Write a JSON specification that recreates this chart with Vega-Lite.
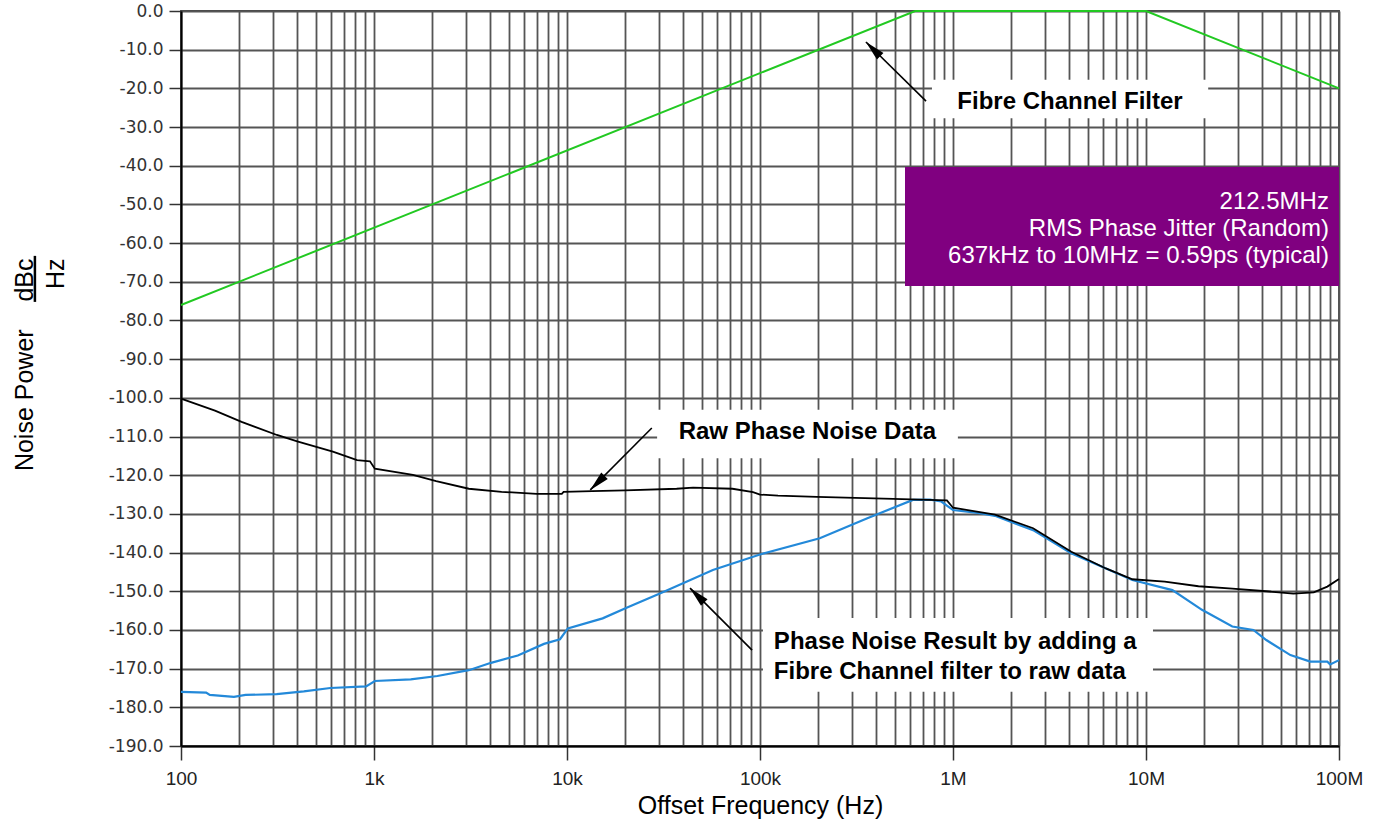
{
  "$schema": "https://vega.github.io/schema/vega-lite/v6.json",
  "width": 1158,
  "height": 735,
  "autosize": {"type": "none"},
  "padding": {"left": 181, "top": 11, "right": 41, "bottom": 79},
  "background": "white",
  "config": {
    "view": {"stroke": "#444444", "strokeWidth": 1.8},
    "font": "Liberation Sans"
  },
  "datasets": {
    "curves": [
      {"series": "filter", "freq": 100, "db": -76},
      {"series": "filter", "freq": 637000, "db": 0},
      {"series": "filter", "freq": 10000000, "db": 0},
      {"series": "filter", "freq": 100000000, "db": -20},
      {"series": "raw", "freq": 100, "db": -100.2},
      {"series": "raw", "freq": 150, "db": -103.3},
      {"series": "raw", "freq": 206, "db": -106.2},
      {"series": "raw", "freq": 314, "db": -109.6},
      {"series": "raw", "freq": 404, "db": -111.3},
      {"series": "raw", "freq": 612, "db": -113.9},
      {"series": "raw", "freq": 817, "db": -116.1},
      {"series": "raw", "freq": 953, "db": -116.4},
      {"series": "raw", "freq": 1010, "db": -118.3},
      {"series": "raw", "freq": 1590, "db": -119.9},
      {"series": "raw", "freq": 2100, "db": -121.5},
      {"series": "raw", "freq": 3100, "db": -123.5},
      {"series": "raw", "freq": 4580, "db": -124.3},
      {"series": "raw", "freq": 6970, "db": -124.8},
      {"series": "raw", "freq": 9400, "db": -124.8},
      {"series": "raw", "freq": 9600, "db": -124.3},
      {"series": "raw", "freq": 13500, "db": -124.1},
      {"series": "raw", "freq": 20000, "db": -123.9},
      {"series": "raw", "freq": 37000, "db": -123.5},
      {"series": "raw", "freq": 45000, "db": -123.2},
      {"series": "raw", "freq": 72000, "db": -123.5},
      {"series": "raw", "freq": 92000, "db": -124.4},
      {"series": "raw", "freq": 100000, "db": -125.0},
      {"series": "raw", "freq": 124000, "db": -125.3},
      {"series": "raw", "freq": 197000, "db": -125.6},
      {"series": "raw", "freq": 490000, "db": -126.1},
      {"series": "raw", "freq": 930000, "db": -126.5},
      {"series": "raw", "freq": 1000000, "db": -128.4},
      {"series": "raw", "freq": 1650000, "db": -130.2},
      {"series": "raw", "freq": 2600000, "db": -133.7},
      {"series": "raw", "freq": 4100000, "db": -139.8},
      {"series": "raw", "freq": 6200000, "db": -144.1},
      {"series": "raw", "freq": 8500000, "db": -146.9},
      {"series": "raw", "freq": 12500000, "db": -147.5},
      {"series": "raw", "freq": 18700000, "db": -148.7},
      {"series": "raw", "freq": 28000000, "db": -149.3},
      {"series": "raw", "freq": 42000000, "db": -150.0},
      {"series": "raw", "freq": 58000000, "db": -150.6},
      {"series": "raw", "freq": 74000000, "db": -150.3},
      {"series": "raw", "freq": 87000000, "db": -148.8},
      {"series": "raw", "freq": 100000000, "db": -146.8},
      {"series": "result", "freq": 100, "db": -176.0},
      {"series": "result", "freq": 135, "db": -176.2},
      {"series": "result", "freq": 141, "db": -176.8},
      {"series": "result", "freq": 188, "db": -177.3},
      {"series": "result", "freq": 216, "db": -176.8},
      {"series": "result", "freq": 313, "db": -176.6},
      {"series": "result", "freq": 433, "db": -175.9},
      {"series": "result", "freq": 594, "db": -175.0},
      {"series": "result", "freq": 910, "db": -174.6},
      {"series": "result", "freq": 1010, "db": -173.2},
      {"series": "result", "freq": 1550, "db": -172.8},
      {"series": "result", "freq": 2130, "db": -171.9},
      {"series": "result", "freq": 3100, "db": -170.4},
      {"series": "result", "freq": 4040, "db": -168.5},
      {"series": "result", "freq": 5560, "db": -166.6},
      {"series": "result", "freq": 7600, "db": -163.6},
      {"series": "result", "freq": 9200, "db": -162.4},
      {"series": "result", "freq": 10100, "db": -159.6},
      {"series": "result", "freq": 15300, "db": -157.0},
      {"series": "result", "freq": 20500, "db": -154.2},
      {"series": "result", "freq": 30500, "db": -150.5},
      {"series": "result", "freq": 57000, "db": -144.5},
      {"series": "result", "freq": 100000, "db": -140.5},
      {"series": "result", "freq": 204000, "db": -136.3},
      {"series": "result", "freq": 360000, "db": -131.1},
      {"series": "result", "freq": 620000, "db": -126.4},
      {"series": "result", "freq": 760000, "db": -126.3},
      {"series": "result", "freq": 870000, "db": -126.8},
      {"series": "result", "freq": 1000000, "db": -129.0},
      {"series": "result", "freq": 1380000, "db": -129.8},
      {"series": "result", "freq": 1650000, "db": -130.5},
      {"series": "result", "freq": 2600000, "db": -134.2},
      {"series": "result", "freq": 4100000, "db": -140.2},
      {"series": "result", "freq": 6200000, "db": -144.1},
      {"series": "result", "freq": 8500000, "db": -147.1},
      {"series": "result", "freq": 13700000, "db": -149.7},
      {"series": "result", "freq": 19500000, "db": -154.8},
      {"series": "result", "freq": 28000000, "db": -159.1},
      {"series": "result", "freq": 36000000, "db": -160.0},
      {"series": "result", "freq": 42000000, "db": -162.6},
      {"series": "result", "freq": 56000000, "db": -166.5},
      {"series": "result", "freq": 71000000, "db": -168.2},
      {"series": "result", "freq": 87000000, "db": -168.2},
      {"series": "result", "freq": 90000000, "db": -168.9},
      {"series": "result", "freq": 100000000, "db": -167.8}
    ],
    "whiteBoxes": [
      {"freq": 778000, "freq2": 21000000, "db": -17.8, "db2": -27.7},
      {"freq": 29300, "freq2": 1060000, "db": -103.1, "db2": -115.6},
      {"freq": 103600, "freq2": 10870000, "db": -156.9, "db2": -176.0}
    ],
    "purpleBox": [
      {"freq": 564000, "freq2": 100000000, "db": -40.3, "db2": -71.1}
    ],
    "centerLabels": [
      {"label": "Fibre Channel Filter", "freq": 4040000, "db": -23.5},
      {"label": "Raw Phase Noise Data", "freq": 176000, "db": -108.8}
    ],
    "leftLabels": [
      {"label": "Phase Noise Result by adding a", "freq": 118000, "db": -163.1},
      {"label": "Fibre Channel filter to raw data", "freq": 118000, "db": -170.9}
    ],
    "boxLabels": [
      {"label": "212.5MHz", "freq": 88700000, "db": -49.4},
      {"label": "RMS Phase Jitter (Random)", "freq": 88700000, "db": -56.3},
      {"label": "637kHz to 10MHz = 0.59ps (typical)", "freq": 88700000, "db": -63.3}
    ],
    "arrows": [
      {"freq": 725000, "db": -23.3, "freq2": 354000, "db2": -8.0},
      {"freq": 27500, "db": -107.8, "freq2": 13200, "db2": -123.8},
      {"freq": 91000, "db": -165.2, "freq2": 43400, "db2": -149.2}
    ],
    "heads": [
      {"freq": 354000, "db": -8.0, "dir": "up-left"},
      {"freq": 13200, "db": -123.8, "dir": "down-left"},
      {"freq": 43400, "db": -149.2, "dir": "up-left"}
    ],
    "fraction": [
      {"freq": 17.5, "db": -63.3, "db2": -75.2}
    ]
  },
  "encoding": {
    "x": {
      "field": "freq",
      "type": "quantitative",
      "scale": {"type": "log", "domain": [100, 100000000], "nice": false},
      "axis": {
        "title": "Offset Frequency (Hz)",
        "titleFont": "Liberation Sans",
        "titleFontSize": 25,
        "titleFontWeight": "normal",
        "titleColor": "#000000",
        "titleBaseline": "alphabetic",
        "titleY": 67,
        "titleX": 579,
        "values": [100, 200, 300, 400, 500, 600, 700, 800, 900,
          1000, 2000, 3000, 4000, 5000, 6000, 7000, 8000, 9000,
          10000, 20000, 30000, 40000, 50000, 60000, 70000, 80000, 90000,
          100000, 200000, 300000, 400000, 500000, 600000, 700000, 800000, 900000,
          1000000, 2000000, 3000000, 4000000, 5000000, 6000000, 7000000, 8000000, 9000000,
          10000000, 20000000, 30000000, 40000000, 50000000, 60000000, 70000000, 80000000, 90000000,
          100000000],
        "labelExpr": "datum.value==100?'100':datum.value==1000?'1k':datum.value==10000?'10k':datum.value==100000?'100k':datum.value==1000000?'1M':datum.value==10000000?'10M':datum.value==100000000?'100M':''",
        "labelFont": "Liberation Sans",
        "labelFontSize": 19,
        "labelColor": "#222222",
        "labelOverlap": false,
        "labelFlush": false,
        "labelBound": false,
        "labelPadding": 9,
        "tickSize": 14,
        "tickWidth": 1.5,
        "tickColor": "#333333",
        "tickOpacity": {"condition": {"test": "indexof([100,1000,10000,100000,1000000,10000000,100000000], datum.value) >= 0", "value": 1}, "value": 0},
        "domainColor": "#000000",
        "domainWidth": 2,
        "grid": true,
        "gridColor": "#555555",
        "gridWidth": 1.8
      }
    },
    "y": {
      "field": "db",
      "type": "quantitative",
      "scale": {"domain": [-190, 0], "nice": false, "zero": false},
      "axis": {
        "title": ["Noise Power\u00a0\u00a0\u00a0\u00a0dBc", "Hz\u00a0"],
        "titleFont": "Liberation Sans",
        "titleFontSize": 25,
        "titleFontWeight": "normal",
        "titleColor": "#000000",
        "titleAngle": 270,
        "titleAlign": "right",
        "titleBaseline": "alphabetic",
        "titleLineHeight": 31,
        "titleX": -149,
        "titleY": 247,
        "values": [0, -10, -20, -30, -40, -50, -60, -70, -80, -90, -100, -110, -120, -130, -140, -150, -160, -170, -180, -190],
        "labelExpr": "(datum.value < 0 ? '-' : '') + format(abs(datum.value), '.1f')",
        "labelFont": "DejaVu Sans",
        "labelFontSize": 17,
        "labelColor": "#333333",
        "labelPadding": 6,
        "tickSize": 12,
        "tickWidth": 1.5,
        "tickColor": "#333333",
        "domainColor": "#000000",
        "domainWidth": 2,
        "grid": true,
        "gridColor": "#555555",
        "gridWidth": 1.8
      }
    }
  },
  "layer": [
    {
      "data": {"name": "whiteBoxes"},
      "mark": {"type": "rect", "fill": "white", "stroke": null},
      "encoding": {"x2": {"field": "freq2"}, "y2": {"field": "db2"}}
    },
    {
      "data": {"name": "purpleBox"},
      "mark": {"type": "rect", "fill": "#800080", "stroke": null},
      "encoding": {"x2": {"field": "freq2"}, "y2": {"field": "db2"}}
    },
    {
      "data": {"name": "curves"},
      "transform": [{"filter": "datum.series == 'filter'"}],
      "mark": {"type": "line", "color": "#22c922", "strokeWidth": 2},
      "encoding": {}
    },
    {
      "data": {"name": "curves"},
      "transform": [{"filter": "datum.series == 'result'"}],
      "mark": {"type": "line", "color": "#2389d9", "strokeWidth": 2.2},
      "encoding": {}
    },
    {
      "data": {"name": "curves"},
      "transform": [{"filter": "datum.series == 'raw'"}],
      "mark": {"type": "line", "color": "#000000", "strokeWidth": 1.8},
      "encoding": {}
    },
    {
      "data": {"name": "centerLabels"},
      "mark": {"type": "text", "font": "Liberation Sans", "fontSize": 24, "fontWeight": "bold", "align": "center", "baseline": "middle", "color": "#000000"},
      "encoding": {"text": {"field": "label"}}
    },
    {
      "data": {"name": "leftLabels"},
      "mark": {"type": "text", "font": "Liberation Sans", "fontSize": 24, "fontWeight": "bold", "align": "left", "baseline": "middle", "color": "#000000"},
      "encoding": {"text": {"field": "label"}}
    },
    {
      "data": {"name": "boxLabels"},
      "mark": {"type": "text", "font": "Liberation Sans", "fontSize": 24, "align": "right", "baseline": "middle", "color": "#ffffff"},
      "encoding": {"text": {"field": "label"}}
    },
    {
      "data": {"name": "arrows"},
      "mark": {"type": "rule", "color": "#000000", "strokeWidth": 1.6},
      "encoding": {"x2": {"field": "freq2"}, "y2": {"field": "db2"}}
    },
    {
      "data": {"name": "heads"},
      "transform": [{"filter": "datum.dir == 'up-left'"}],
      "mark": {"type": "point", "shape": "M0,-1L0.45,1L-0.45,1Z", "filled": true, "color": "#000000", "opacity": 1, "size": 420, "angle": 315, "xOffset": 7, "yOffset": 7, "strokeWidth": 0},
      "encoding": {}
    },
    {
      "data": {"name": "heads"},
      "transform": [{"filter": "datum.dir == 'down-left'"}],
      "mark": {"type": "point", "shape": "M0,-1L0.45,1L-0.45,1Z", "filled": true, "color": "#000000", "opacity": 1, "size": 420, "angle": 225, "xOffset": 7, "yOffset": -7, "strokeWidth": 0},
      "encoding": {}
    },
    {
      "data": {"name": "fraction"},
      "mark": {"type": "rule", "color": "#000000", "strokeWidth": 2.5, "clip": false},
      "encoding": {"y2": {"field": "db2"}}
    }
  ]
}
